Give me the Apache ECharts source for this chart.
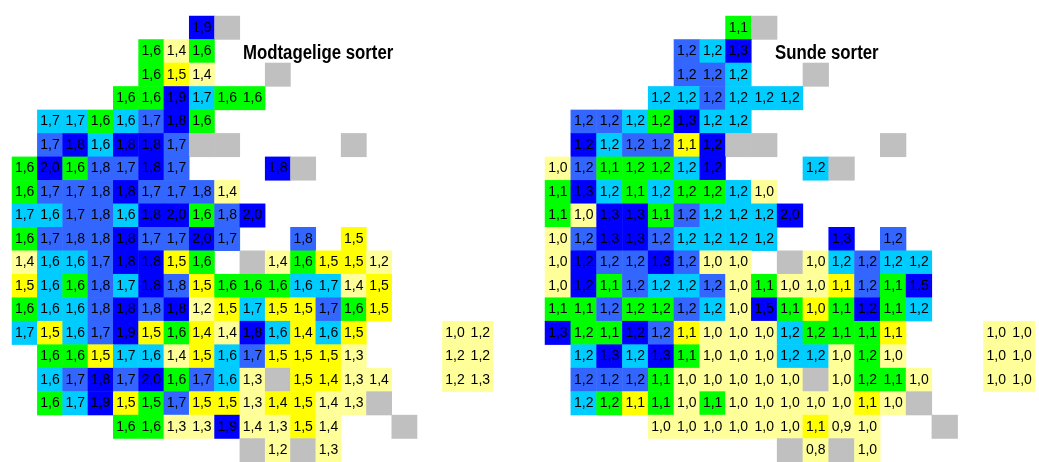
<!DOCTYPE html>
<html>
<head>
<meta charset="utf-8">
<script src="https://cdn.jsdelivr.net/npm/echarts@6/dist/echarts.min.js"></script>
<style>
  html, body { margin: 0; padding: 0; background: #fff; }
  #chart { width: 1039px; height: 462px; }
</style>
</head>
<body>
<div id="chart"></div>
<script>
// each row: one token per column, "." = empty, "X" = grey cell,
// otherwise value + colour class (L,Y,G,C,M,D)
const leftRows = [
  '. . . . . . . 1,9D X',
  '. . . . . 1,6G 1,4L 1,6G',
  '. . . . . 1,6G 1,5Y 1,4L . . X',
  '. . . . 1,6G 1,6G 1,9D 1,7C 1,6G 1,6G',
  '. 1,7C 1,7C 1,6G 1,6C 1,7M 1,8D 1,6G',
  '. 1,7M 1,8D 1,6C 1,8D 1,8D 1,7M X X . . . . X',
  '1,6G 2,0D 1,6G 1,8M 1,7M 1,8D 1,7M . . . 1,8D X',
  '1,6G 1,7M 1,7M 1,8M 1,8D 1,7M 1,7M 1,8M 1,4L',
  '1,7C 1,6C 1,7M 1,8M 1,6C 1,8D 2,0D 1,6G 1,8M 2,0D',
  '1,6G 1,7M 1,8M 1,8M 1,8D 1,7M 1,7M 2,0D 1,7M . . 1,8M . 1,5Y',
  '1,4L 1,6C 1,6C 1,7M 1,8D 1,8D 1,5Y 1,6G . X 1,4L 1,6G 1,5Y 1,5Y 1,2L',
  '1,5Y 1,6C 1,6G 1,8M 1,7C 1,8D 1,8M 1,5Y 1,6G 1,6G 1,6G 1,6C 1,7C 1,4L 1,5Y',
  '1,6G 1,6C 1,6C 1,8M 1,8D 1,8M 1,8D 1,2L 1,5Y 1,7C 1,5Y 1,5Y 1,7M 1,6G 1,5Y',
  '1,7C 1,5Y 1,6C 1,7M 1,9D 1,5Y 1,6G 1,4Y 1,4L 1,8D 1,6C 1,4Y 1,6C 1,5Y . . . 1,0L 1,2L',
  '. 1,6G 1,6G 1,5Y 1,7C 1,6C 1,4L 1,5Y 1,6C 1,7M 1,5Y 1,5Y 1,5Y 1,3L . . . 1,2L 1,2L',
  '. 1,6C 1,7M 1,8D 1,7M 2,0D 1,6G 1,7M 1,6C 1,3L X 1,5Y 1,4Y 1,3L 1,4L . . 1,2L 1,3L',
  '. 1,6G 1,7C 1,9D 1,5Y 1,5G 1,7M 1,5Y 1,5Y 1,3L 1,4Y 1,5Y 1,4L 1,3L X',
  '. . . . 1,6G 1,6G 1,3L 1,3L 1,9D 1,4L 1,3L 1,5Y 1,4L . . X',
  '. . . . . . . . . X 1,2L X 1,3L'
];

const rightRows = [
  '. . . . . . . 1,1G X',
  '. . . . . 1,2M 1,2C 1,3D',
  '. . . . . 1,2M 1,2M 1,2C . . X',
  '. . . . 1,2C 1,2C 1,2M 1,2C 1,2C 1,2C',
  '. 1,2M 1,2M 1,2C 1,2G 1,3D 1,2C 1,2C',
  '. 1,2D 1,2C 1,2M 1,2M 1,1Y 1,2D X X . . . . X',
  '1,0L 1,2M 1,1G 1,2G 1,2G 1,2C 1,2D . . . 1,2C X',
  '1,1G 1,3D 1,2C 1,1G 1,2C 1,2G 1,2G 1,2C 1,0L',
  '1,1G 1,0L 1,3D 1,3D 1,1G 1,2M 1,2C 1,2C 1,2C 2,0D',
  '1,0L 1,2M 1,3D 1,3D 1,2M 1,2C 1,2C 1,2C 1,2C . . 1,3D . 1,2M',
  '1,0L 1,2D 1,2M 1,2M 1,3D 1,2M 1,0L 1,0L . X 1,0L 1,2C 1,2M 1,2C 1,2C',
  '1,0L 1,2D 1,1G 1,2M 1,2C 1,2C 1,2M 1,0L 1,1G 1,0L 1,0L 1,1Y 1,2M 1,1G 1,5D',
  '1,1G 1,1G 1,2M 1,2G 1,2G 1,2M 1,2C 1,0L 1,5D 1,1G 1,0Y 1,1G 1,2D 1,1G 1,2C',
  '1,3D 1,2G 1,1G 1,2D 1,2M 1,1Y 1,0L 1,0L 1,0L 1,2C 1,2G 1,1G 1,1G 1,1Y . . . 1,0L 1,0L',
  '. 1,2C 1,3D 1,2C 1,3D 1,1G 1,0L 1,0L 1,0L 1,2C 1,2C 1,0L 1,2G 1,0L . . . 1,0L 1,0L',
  '. 1,2M 1,2M 1,2M 1,1G 1,0L 1,0L 1,0L 1,0L 1,0L X 1,0L 1,2G 1,1G 1,0L . . 1,0L 1,0L',
  '. 1,2C 1,2G 1,1Y 1,1G 1,0L 1,1G 1,0L 1,0L 1,0L 1,0L 1,0L 1,1Y 1,0L X',
  '. . . . 1,0L 1,0L 1,0L 1,0L 1,0L 1,0L 1,1Y 0,9L 1,0L . . X',
  '. . . . . . . . . X 0,8L X 1,0L'
];

const titles = ['Modtagelige sorter', 'Sunde sorter'];
const classCodes = ['X', 'L', 'Y', 'G', 'C', 'M', 'D'];
const classColors = ['#c0c0c0', '#ffff99', '#ffff00', '#00ff00', '#00ccff', '#3366ff', '#0000ff'];

const nCols = 19;
const nRows = 19;
const cols = Array.from({ length: nCols }, (_, i) => i);
const rows = Array.from({ length: nRows }, (_, i) => i);

function parse(rowStrings) {
  const out = [];
  rowStrings.forEach(function (line, r) {
    line.trim().split(/\s+/).forEach(function (tok, c) {
      if (tok === '.') return;
      if (tok === 'X') {
        out.push([c, r, 0, '']);
      } else {
        const code = tok.slice(-1);
        out.push([c, r, classCodes.indexOf(code), tok.slice(0, -1)]);
      }
    });
  });
  return out;
}

const panels = [
  { rows: leftRows, grid: { left: 12, top: 16, width: 481, height: 450 }, titleX: 243 },
  { rows: rightRows, grid: { left: 545, top: 16, width: 490, height: 450 }, titleX: 775 }
];

const chart = echarts.init(document.getElementById('chart'), null, { renderer: 'canvas' });

chart.setOption({
  animation: false,
  backgroundColor: '#fff',
  // titles are drawn narrow, like the condensed bold type of the original
  graphic: panels.map(function (p, i) {
    return {
      type: 'text',
      x: p.titleX,
      y: 53,
      scaleX: 0.84,
      z: 100,
      style: {
        text: titles[i],
        font: 'bold 20px "Liberation Sans", Arial, sans-serif',
        fill: '#000',
        align: 'left',
        verticalAlign: 'middle'
      }
    };
  }),
  grid: panels.map(function (p) { return p.grid; }),
  xAxis: panels.map(function (p, i) {
    return { type: 'category', gridIndex: i, data: cols, show: false };
  }),
  yAxis: panels.map(function (p, i) {
    return { type: 'category', gridIndex: i, data: rows, inverse: true, show: false };
  }),
  visualMap: {
    type: 'piecewise',
    show: false,
    dimension: 2,
    seriesIndex: [0, 1],
    pieces: classColors.map(function (c, i) { return { value: i, color: c }; })
  },
  series: panels.map(function (p, i) {
    return {
      type: 'heatmap',
      xAxisIndex: i,
      yAxisIndex: i,
      data: parse(p.rows),
      itemStyle: { borderWidth: 0 },
      label: {
        show: true,
        formatter: function (d) { return d.data[3]; },
        fontFamily: '"Liberation Sans", Arial, sans-serif',
        fontSize: 14,
        color: '#000'
      },
      emphasis: { disabled: true }
    };
  })
});
</script>
</body>
</html>
